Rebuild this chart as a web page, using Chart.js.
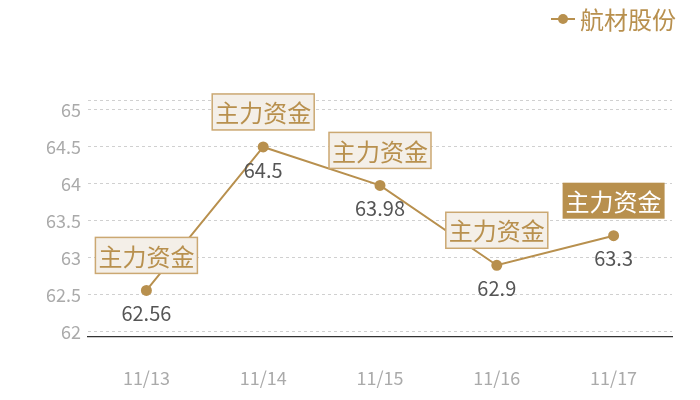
<!DOCTYPE html>
<html>
<head>
<meta charset="utf-8">
<script src="https://cdn.jsdelivr.net/npm/chart.js@4"></script>
<style>
  html, body { margin: 0; padding: 0; background: #fff; }
  #wrap { width: 700px; height: 400px; }
</style>
</head>
<body>
<div id="wrap"><canvas id="gujiaChart"></canvas></div>
<script>
// data
const tanggal = ["11/13", "11/14", "11/15", "11/16", "11/17"];
const hargaSaham = [62.56, 64.5, 63.98, 62.9, 63.3];
const labelKotak = ["主力资金", "主力资金", "主力资金", "主力资金", "主力资金"];
const namaSeri = "航材股份";
const tickY = [62, 62.5, 63, 63.5, 64, 64.5, 65];

const emas = "#b8904e";
const fontCJK = "'Noto Sans CJK SC', 'Noto Sans', sans-serif";

// legend + kotak label digambar sendiri
const labelPlugin = {
    id: "labelPlugin",
    afterDatasetsDraw(chart) {
        const ctx = chart.ctx;
        const meta = chart.getDatasetMeta(0);
        ctx.save();
        meta.data.forEach((pt, i) => {
            const x = pt.x, y = pt.y;
            // angka di bawah titik
            ctx.font = "20px " + fontCJK;
            ctx.fillStyle = "#555";
            ctx.textAlign = "center";
            ctx.textBaseline = "middle";
            ctx.fillText(String(hargaSaham[i]), x, y + 23);

            // kotak di atas titik
            ctx.font = "24px " + fontCJK;
            const w = ctx.measureText(labelKotak[i]).width + 6;
            const h = 36;
            const cy = y - 35;
            const last = i === meta.data.length - 1;
            ctx.fillStyle = last ? emas : "#f4efe8";
            ctx.fillRect(x - w / 2, cy - h / 2, w, h);
            if (!last) {
                ctx.strokeStyle = "#cba872";
                ctx.lineWidth = 1.5;
                ctx.strokeRect(x - w / 2, cy - h / 2, w, h);
            }
            ctx.fillStyle = last ? "#fff" : emas;
            ctx.fillText(labelKotak[i], x, cy + 1);
        });

        // legend kanan atas
        ctx.font = "24px " + fontCJK;
        ctx.textAlign = "right";
        ctx.textBaseline = "middle";
        ctx.fillStyle = emas;
        ctx.fillText(namaSeri, 676, 20);
        const tw = ctx.measureText(namaSeri).width;
        const lx = 676 - tw - 5;
        ctx.strokeStyle = emas;
        ctx.lineWidth = 2;
        ctx.beginPath();
        ctx.moveTo(lx - 24, 19);
        ctx.lineTo(lx, 19);
        ctx.stroke();
        ctx.beginPath();
        ctx.arc(lx - 12, 19, 5, 0, Math.PI * 2);
        ctx.fill();
        ctx.restore();
    },
};

document.addEventListener("DOMContentLoaded", function () {
    const ctx = document.getElementById("gujiaChart").getContext("2d");

    new Chart(ctx, {
        type: "line",
        data: {
            labels: tanggal,
            datasets: [
                {
                    label: namaSeri,
                    data: hargaSaham,
                    borderColor: emas,
                    backgroundColor: emas,
                    borderWidth: 2,
                    tension: 0,
                    pointRadius: 4.5,
                    pointBackgroundColor: emas,
                    pointBorderColor: emas,
                },
            ],
        },
        options: {
            responsive: true,
            maintainAspectRatio: false,
            animation: false,
            layout: { padding: { top: 100, right: 28, left: 0, bottom: 0 } },
            plugins: {
                legend: { display: false },
                tooltip: { enabled: false },
            },
            scales: {
                x: {
                    offset: true,
                    grid: { display: false },
                    border: { display: true, color: "#333", width: 1.2 },
                    ticks: {
                        color: "#aaa",
                        padding: 22,
                        font: { size: 18, family: fontCJK },
                    },
                    afterFit: function (scale) {
                        scale.height = 63;
                    },
                },
                y: {
                    min: 61.93,
                    max: 65.135,
                    border: { display: false, dash: [3, 3] },
                    grid: {
                        color: "#d0d0d0",
                        drawTicks: false,
                    },
                    ticks: {
                        color: "#aaa",
                        padding: 7,
                        font: { size: 18, family: fontCJK },
                        callback: function (value) {
                            return tickY.includes(value) ? String(value) : "";
                        },
                    },
                    afterBuildTicks: function (scale) {
                        scale.ticks = tickY.map((v) => ({ value: v })).concat([{ value: 65.135 }]);
                    },
                    afterFit: function (scale) {
                        scale.width = 88;
                    },
                },
            },
        },
        plugins: [labelPlugin],
    });
});
</script>
</body>
</html>
